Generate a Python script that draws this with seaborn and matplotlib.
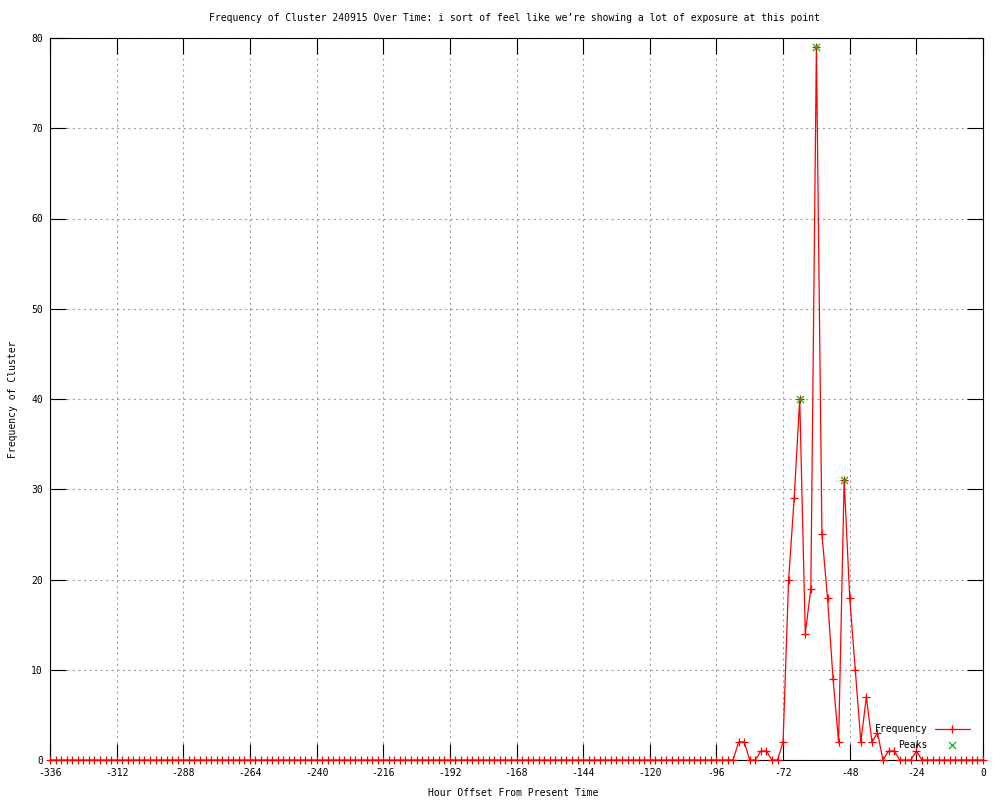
import matplotlib
matplotlib.use("Agg")
from matplotlib import pyplot as plt
import seaborn as sns
import pandas as pd

# hour offsets, one point every 2 hours
hours = list(range(-336, 1, 2))

# frequency, one row per 24 hours
freq = [
    0, 0, 0, 0, 0, 0, 0, 0, 0, 0, 0, 0,        # -336
    0, 0, 0, 0, 0, 0, 0, 0, 0, 0, 0, 0,        # -312
    0, 0, 0, 0, 0, 0, 0, 0, 0, 0, 0, 0,        # -288
    0, 0, 0, 0, 0, 0, 0, 0, 0, 0, 0, 0,        # -264
    0, 0, 0, 0, 0, 0, 0, 0, 0, 0, 0, 0,        # -240
    0, 0, 0, 0, 0, 0, 0, 0, 0, 0, 0, 0,        # -216
    0, 0, 0, 0, 0, 0, 0, 0, 0, 0, 0, 0,        # -192
    0, 0, 0, 0, 0, 0, 0, 0, 0, 0, 0, 0,        # -168
    0, 0, 0, 0, 0, 0, 0, 0, 0, 0, 0, 0,        # -144
    0, 0, 0, 0, 0, 0, 0, 0, 0, 0, 0, 0,        # -120
    0, 0, 0, 0, 2, 2, 0, 0, 1, 1, 0, 0,        # -96
    2, 20, 29, 40, 14, 19, 79, 25, 18, 9, 2, 31,  # -72
    18, 10, 2, 7, 2, 3, 0, 1, 1, 0, 0, 0,      # -48
    1, 0, 0, 0, 0, 0, 0, 0, 0, 0, 0, 0,        # -24
    0,                                         # 0
]

peak_hours = [-66, -60, -50]
peak_vals = [40, 79, 31]

x_ticks = list(range(-336, 1, 24))
y_ticks = list(range(0, 81, 10))

df = pd.DataFrame({"hour": hours, "freq": freq})
peaks = pd.DataFrame({"hour": peak_hours, "freq": peak_vals})

sns.set_style("white")
plt.rcParams["font.family"] = ["DejaVu Sans Mono"]
plt.rcParams["axes.unicode_minus"] = False
plt.rcParams["text.color"] = "black"
fs = 7.0

fig = plt.figure(figsize=(10, 8), dpi=100)
ax = fig.add_axes([0.05, 0.05, 0.933, 0.9025])

sns.lineplot(data=df, x="hour", y="freq", ax=ax, color="red", lw=0.9,
             marker="+", markersize=5.5, markeredgewidth=0.9, markeredgecolor="red",
             label="Frequency", clip_on=False, zorder=3)
sns.scatterplot(data=peaks, x="hour", y="freq", ax=ax, color="#00c000",
                marker="x", s=26, linewidth=0.9, label="Peaks", zorder=4, clip_on=False)

ax.set_xlim(-336, 0)
ax.set_ylim(0, 80)
ax.set_xticks(x_ticks)
ax.set_yticks(y_ticks)
ax.set_xticklabels([str(t) for t in x_ticks], fontsize=fs, color="black")
ax.set_yticklabels([str(t) for t in y_ticks], fontsize=fs, color="black")
ax.tick_params(direction="in", length=11.5, width=0.8, color="black",
               top=True, right=True, bottom=True, left=True)
ax.tick_params(axis="x", pad=6)
ax.tick_params(axis="y", pad=5)
ax.grid(True, color="#a0a0a0", linestyle=(0, (2, 3)), linewidth=0.8)
for s in ax.spines.values():
    s.set_color("black")
    s.set_linewidth(0.8)

ax.set_xlabel("")
ax.set_ylabel("")
fig.text(0.5145, 1 - 18 / 800, "Frequency of Cluster 240915 Over Time: i sort of feel like we\u2019re showing a lot of exposure at this point",
         ha="center", va="center", fontsize=fs, color="black")
fig.text(0.5135, 1 - 793 / 800, "Hour Offset From Present Time", ha="center", va="center",
         fontsize=fs, color="black")
fig.text(0.013, 1 - 399 / 800, "Frequency of Cluster", ha="center", va="center",
         rotation=90, fontsize=fs, color="black")

leg = ax.legend(loc="lower right", bbox_to_anchor=(0.993, 0.005), frameon=False,
                markerfirst=False, fontsize=fs, handlelength=3.6, labelspacing=0.55,
                handletextpad=0.7, borderaxespad=0.3)
for t in leg.get_texts():
    t.set_color("black")

fig.savefig("out.png", dpi=100, facecolor="white")
